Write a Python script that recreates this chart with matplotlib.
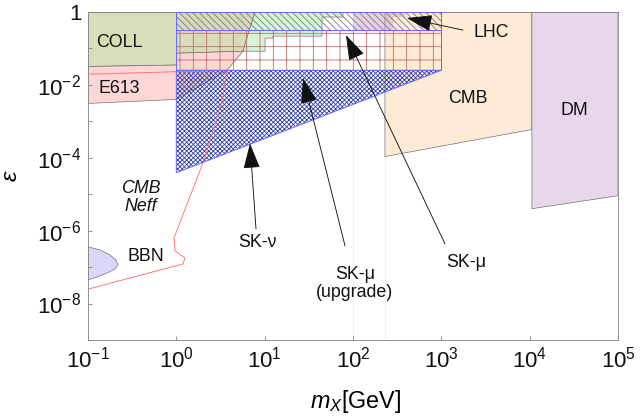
import matplotlib
matplotlib.use("Agg")
import matplotlib.pyplot as plt
from matplotlib.patches import Polygon

plt.rcParams['font.family'] = ['Liberation Sans', 'DejaVu Sans']
plt.rcParams['mathtext.fontset'] = 'custom'
plt.rcParams['mathtext.rm'] = 'Liberation Sans'
plt.rcParams['mathtext.it'] = 'Liberation Sans:italic'
plt.rcParams['hatch.linewidth'] = 0.75

# excluded regions, (m_X [GeV], epsilon) corners
coll_x = [0.1, 7.8, 6.65, 5.69, 1, 1, 0.1]
coll_y = [1, 1, 0.30, 0.084, 0.074, 0.035, 0.032]
e613_x = [0.1, 1, 1, 5.69, 3.75, 1, 0.1]
e613_y = [0.032, 0.035, 0.074, 0.084, 0.0252, 0.0040, 0.0031]
green_x = [7.8, 77, 77, 44.6, 44.6, 12.4, 12.4, 10.1, 10.1, 5.69, 6.65]
green_y = [1, 1, 0.728, 0.728, 0.218, 0.218, 0.192, 0.192, 0.084, 0.084, 0.30]
lhc_x = [100, 388, 388, 284, 284, 100]
lhc_y = [1, 1, 0.728, 0.728, 0.319, 0.319]
cmb_x = [230, 1.06e4, 1.06e4, 230]
cmb_y = [1, 1, 6.0e-4, 1.08e-4]
dm_x = [1.06e4, 1e5, 1e5, 1.06e4]
dm_y = [1, 1, 9.1e-6, 4.0e-6]
bbn_x = [0.1, 0.137, 0.177, 0.207, 0.219, 0.202, 0.164, 0.126, 0.1]
bbn_y = [3.58e-7, 2.96e-7, 2.16e-7, 1.57e-7, 1.14e-7, 8.87e-8, 6.88e-8, 5.33e-8, 4.41e-8]
neff_x = [0.1, 3.75, 3.29, 2.11, 0.942, 0.966, 1.25, 1.19, 0.1]
neff_y = [0.0196, 0.0252, 0.00377, 1.01e-4, 6.3e-7, 2.78e-7, 1.78e-7, 1.22e-7, 2.49e-8]

# Super-K sensitivity regions
sknu_x = [1, 1000, 1]
sknu_y = [0.0252, 0.0252, 3.9e-5]
skmu_up_x = [1, 1000, 1000, 1]
skmu_up_y = [0.0252, 0.0252, 0.319, 0.319]
skmu_x = [1, 1000, 1000, 1]
skmu_y = [0.319, 0.319, 1, 1]

# faint edges running down the plot
faint_x = [100, 230]

# labels: text, x, y
labels = [("COLL", 0.224, 0.149), ("E613", 0.224, 0.0081), ("CMB", 2004, 0.0043),
          ("DM", 3.18e4, 0.0020), ("LHC", 3648, 0.281), ("BBN", 0.454, 1.9e-7),
          ("SK-ν", 8.18, 4.6e-7), ("SK-μ\n(upgrade)", 105, 3.6e-8), ("SK-μ", 1901, 1.3e-7)]
# arrows: (tail x, tail y, tip x, tip y)
arrows = [(1758, 0.319, 408, 0.684),
          (7.98, 1.12e-6, 6.82, 2.46e-4),
          (81.3, 3.81e-7, 27.2, 0.0152),
          (1101, 4.33e-7, 83.4, 0.232)]


def poly(xs, ys):
    return list(zip(xs, ys))


fig = plt.figure(figsize=(8, 5.2125), dpi=80)
ax = fig.add_axes([0.1375, 0.1847, 0.8281, 0.7865])
ax.set_xscale('log')
ax.set_yscale('log')
ax.set_xlim(0.1, 1e5)
ax.set_ylim(1e-9, 1)

for fx in faint_x:
    ax.axvline(fx, color='#eeeeee', lw=0.8, zorder=0)

fills = [(cmb_x, cmb_y, '#fdebd8'), (dm_x, dm_y, '#e8d6ea'),
         (coll_x, coll_y, '#d9dcb8'), (e613_x, e613_y, '#ffd6d6'),
         (green_x, green_y, '#d6f5d6'), (bbn_x, bbn_y, '#d8d8f8')]
for xs, ys, c in fills:
    ax.add_patch(Polygon(poly(xs, ys), closed=True, facecolor=c, edgecolor='#6e6e6e', lw=0.6, zorder=1))
ax.add_patch(Polygon(poly(lhc_x, lhc_y), closed=True, facecolor='#c89ac8', alpha=0.45,
                     edgecolor='none', zorder=1.5))

ax.plot(neff_x, neff_y, color='#ff7070', lw=0.8, zorder=3)

# hatched Super-K boxes
ax.add_patch(Polygon(poly(sknu_x, sknu_y), closed=True, fill=False, hatch='xxxxxx',
                     edgecolor='#3040a8', lw=0, zorder=2))
ax.add_patch(Polygon(poly(skmu_up_x, skmu_up_y), closed=True, fill=False, hatch='+',
                     edgecolor='#c46a6a', lw=0, zorder=2))
ax.add_patch(Polygon(poly(skmu_x, skmu_y), closed=True, fill=False, hatch='\\\\\\\\',
                     edgecolor='#7a7a7a', lw=0, zorder=2))
for xs, ys in [(sknu_x, sknu_y), (skmu_up_x, skmu_up_y), (skmu_x, skmu_y)]:
    ax.add_patch(Polygon(poly(xs, ys), closed=True, fill=False, edgecolor='#6a6aff', lw=0.9, zorder=3))

for t, x, y in labels:
    ax.text(x, y, t, fontsize=16, ha='center', va='center', color='#111111', zorder=5,
            linespacing=1.1)
ax.text(0.398, 8.0e-6, "CMB\nNeff", fontsize=16, style='italic', ha='center', va='center',
        color='#111111', linespacing=1.1, zorder=5)

for x0, y0, x1, y1 in arrows:
    ax.annotate('', xy=(x1, y1), xytext=(x0, y0),
                arrowprops=dict(arrowstyle='-|>,head_length=1.0,head_width=0.33',
                                color='#111111', lw=0.8, shrinkA=0, shrinkB=0,
                                mutation_scale=20), zorder=6)

xt = list(range(-1, 6))
ax.set_xticks([10.0 ** k for k in xt])
ax.set_xticklabels([r'$10^{%d}$' % k for k in xt])
yt = list(range(-9, 1))
ax.set_yticks([10.0 ** k for k in yt])
ax.set_yticklabels(['1' if k == 0 else (r'$10^{%d}$' % k if k % 2 == 0 else '') for k in yt])
ax.minorticks_off()
ax.tick_params(direction='in', length=4, color='#888888', labelsize=20, pad=6,
               labelcolor='#111111')
for s in ax.spines.values():
    s.set_color('#888888')
    s.set_linewidth(0.8)

ax.set_xlabel(r'$m_X$[GeV]', fontsize=21)
ax.xaxis.set_label_coords(0.504, -0.145)
ax.set_ylabel(r'$\varepsilon$', fontsize=21)
ax.yaxis.set_label_coords(-0.125, 0.5)

fig.savefig('out.png', dpi=80)
